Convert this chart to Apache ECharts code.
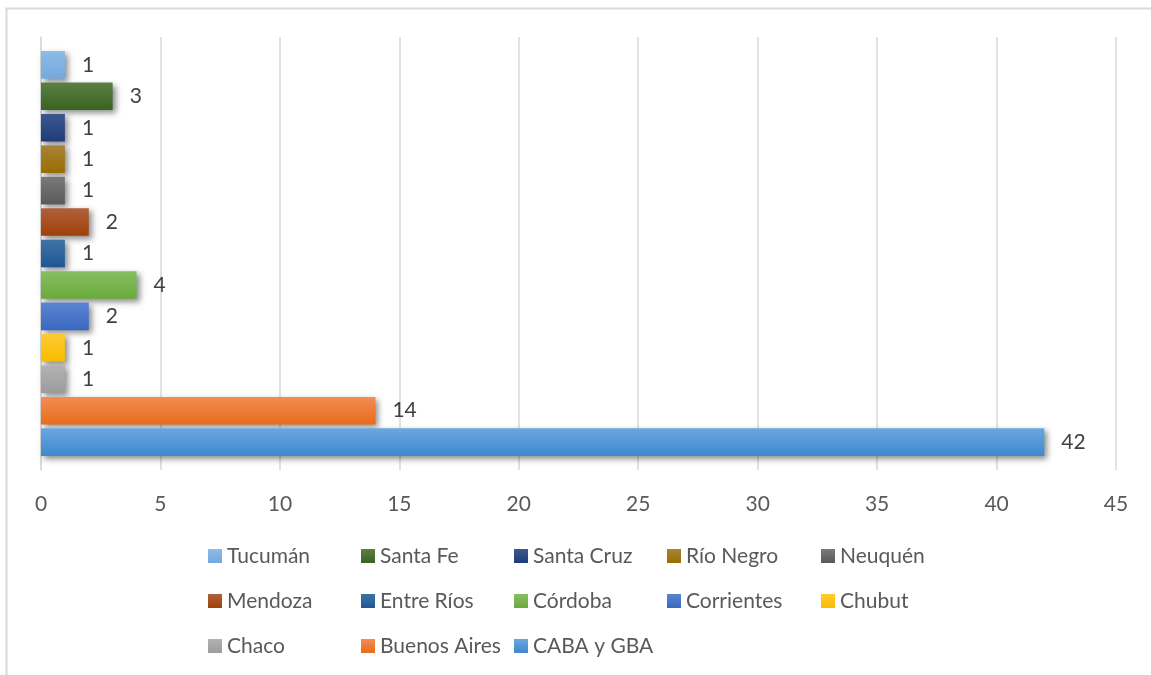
<!DOCTYPE html>
<html>
<head>
<meta charset="utf-8">
<script src="https://cdn.jsdelivr.net/npm/echarts@6/dist/echarts.min.js"></script>
<style>
  html, body { margin: 0; padding: 0; background: #fff; }
  #chart { width: 1151px; height: 675px; }
</style>
</head>
<body>
<div id="chart"></div>
<script>
// datos
var provincias = ['Tucumán', 'Santa Fe', 'Santa Cruz', 'Río Negro', 'Neuquén',
  'Mendoza', 'Entre Ríos', 'Córdoba', 'Corrientes', 'Chubut',
  'Chaco', 'Buenos Aires', 'CABA y GBA']
var valores = [1, 3, 1, 1, 1, 2, 1, 4, 2, 1, 1, 14, 42]
var xTicks = [0, 5, 10, 15, 20, 25, 30, 35, 40, 45]

// colores (arriba claro, abajo oscuro)
var coloresTop = ['#8dbbe7', '#5b7f46', '#3d5891', '#a8823a', '#7a7a7a',
  '#b1603a', '#3f73a6', '#86be62', '#5b84d2', '#ffcb33',
  '#b2b2b2', '#f28d52', '#6aa7df']
var coloresBot = ['#74a9dd', '#3a6220', '#1e3c78', '#996f00', '#5a5a5a',
  '#9f4108', '#1d5893', '#6aab3c', '#3a68c0', '#f9bc00',
  '#9c9c9c', '#e86b1c', '#3f88cc']

var font = 'Lato, "Noto Sans", sans-serif'
var myChart = echarts.init(document.getElementById('chart'))

var series = provincias.map(function (name, i) {
  return {
    name: name,
    type: 'bar',
    barCategoryGap: '6.5%',
    barGap: '14%',
    data: [valores[i]],
    itemStyle: {
      color: new echarts.graphic.LinearGradient(0, 0, 0, 1, [
        { offset: 0, color: coloresTop[i] },
        { offset: 1, color: coloresBot[i] }
      ]),
      shadowColor: 'rgba(0,0,0,0.45)',
      shadowBlur: 6,
      shadowOffsetX: 3,
      shadowOffsetY: 3
    },
    label: {
      show: true,
      position: 'right',
      distance: 17,
      fontFamily: font,
      fontSize: 21,
      color: '#404040'
    }
  }
})

// leyenda en 5 columnas
var colLeft = [208, 361, 514, 667, 821]
var legends = colLeft.map(function (left, c) {
  var items = []
  for (var k = c; k < provincias.length; k += 5) items.push(provincias[k])
  return {
    orient: 'vertical',
    left: left,
    top: 545,
    padding: 0,
    data: items,
    icon: 'rect',
    itemWidth: 14,
    itemHeight: 14,
    itemGap: 23,
    textStyle: { fontFamily: font, fontSize: 21, lineHeight: 22, color: '#595959' }
  }
})

var option = {
  animation: false,
  backgroundColor: '#fff',
  grid: { left: 41, right: 35, top: 37, bottom: 205 },
  legend: legends,
  xAxis: {
    type: 'value',
    min: xTicks[0],
    max: xTicks[xTicks.length - 1],
    interval: 5,
    axisLine: { show: false },
    axisTick: { show: false },
    splitLine: { lineStyle: { color: '#d9d9d9', width: 1.5 } },
    axisLabel: { margin: 24, fontFamily: font, fontSize: 21, color: '#595959' }
  },
  yAxis: {
    type: 'category',
    data: [''],
    inverse: true,
    axisLine: { show: true, lineStyle: { color: '#d9d9d9', width: 1.5 } },
    axisTick: { show: false },
    axisLabel: { show: false }
  },
  graphic: [{
    type: 'polyline',
    shape: { points: [[6.5, 675], [6.5, 8.5], [1151, 8.5]] },
    style: { stroke: '#d9d9d9', lineWidth: 2, fill: null }
  }],
  series: series
}
myChart.setOption(option, true)
window.addEventListener('resize', function () {
  myChart.resize()
})
</script>
</body>
</html>
